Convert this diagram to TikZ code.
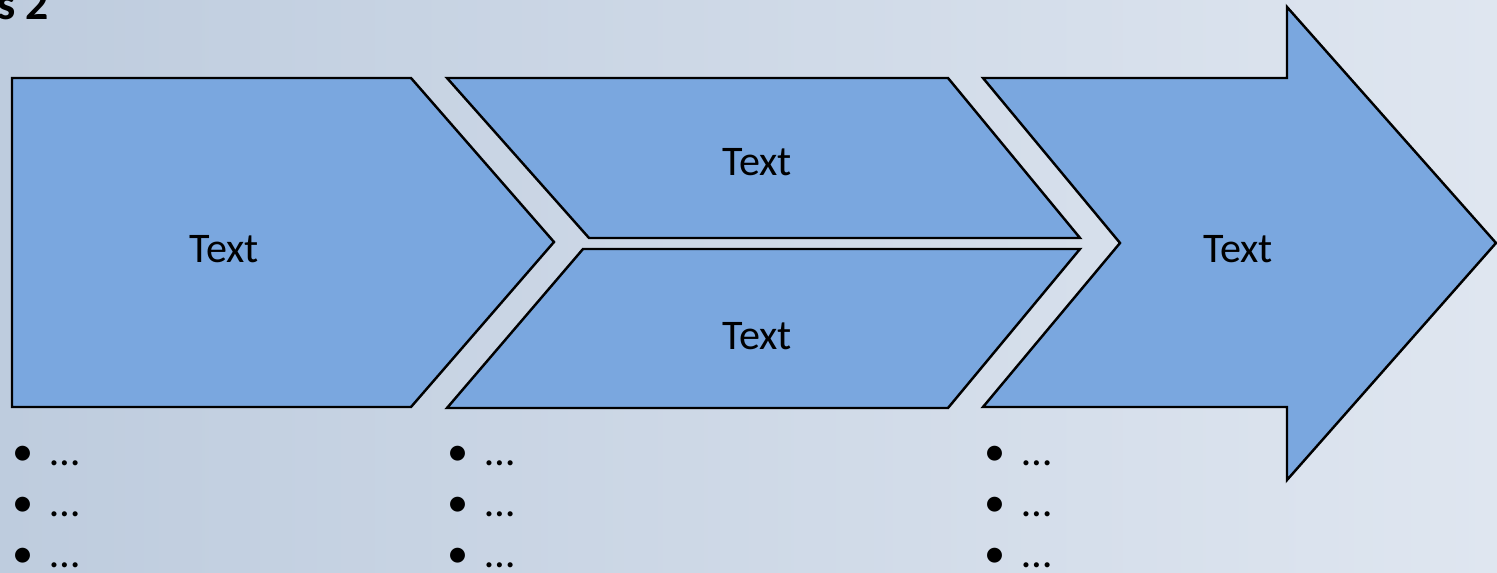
\documentclass[tikz,border=0pt]{standalone}
\usepackage{fontspec}
\setmainfont{Carlito}
\definecolor{chevfill}{RGB}{122,167,223}
\definecolor{bgleft}{RGB}{190,204,222}
\definecolor{bgright}{RGB}{223,230,240}
\begin{document}
\begin{tikzpicture}[x=0.02cm, y=-0.02cm,
    chevron/.style = {fill=chevfill, draw=black, line width=1.4pt, line join=miter},
    lbl/.style = {font=\fontsize{24}{28}\selectfont},
    dot/.style = {font=\fontsize{24}{28}\selectfont, anchor=base, inner sep=0pt},
    item/.style = {font=\fontsize{24}{28}\selectfont, anchor=base west, inner sep=0pt}]
      \useasboundingbox (0,0) rectangle (1497,573);
      \shade[left color=bgleft, right color=bgright] (0,0) rectangle (1497,573);
      \node[anchor=base east, font=\fontsize{26}{30}\bfseries] (title) at (55,20) {s 2};
      % the three steps
      \draw[chevron] (12,78) -- (411,78) -- (554,242) -- (411,407) -- (12,407) -- cycle;
      \draw[chevron] (447,78) -- (948,78) -- (1080,238) -- (589,238) -- cycle;
      \draw[chevron] (583,249) -- (1080,249) -- (948,408) -- (447,408) -- cycle;
      \draw[chevron] (983,78) -- (1287,78) -- (1287,7) -- (1496,243) -- (1287,480)
                     -- (1287,407) -- (983,407) -- (1120,243) -- cycle;
      \node[lbl] (stepa)  at (224,249)  {Text};
      \node[lbl] (stepbt) at (757,162)  {Text};
      \node[lbl] (stepbb) at (757,336)  {Text};
      \node[lbl] (stepc)  at (1238,249) {Text};
      % bullets
      \foreach \col/\cx in {a/23, b/458, c/995}
        \foreach \row/\cy in {1/466, 2/517, 3/568} {
          \node[dot]  (dot\col\row)  at (\cx,\cy)    {•};
          \node[item] (item\col\row) at (\cx+27,\cy) {…};
        }
    \end{tikzpicture}
\end{document}
